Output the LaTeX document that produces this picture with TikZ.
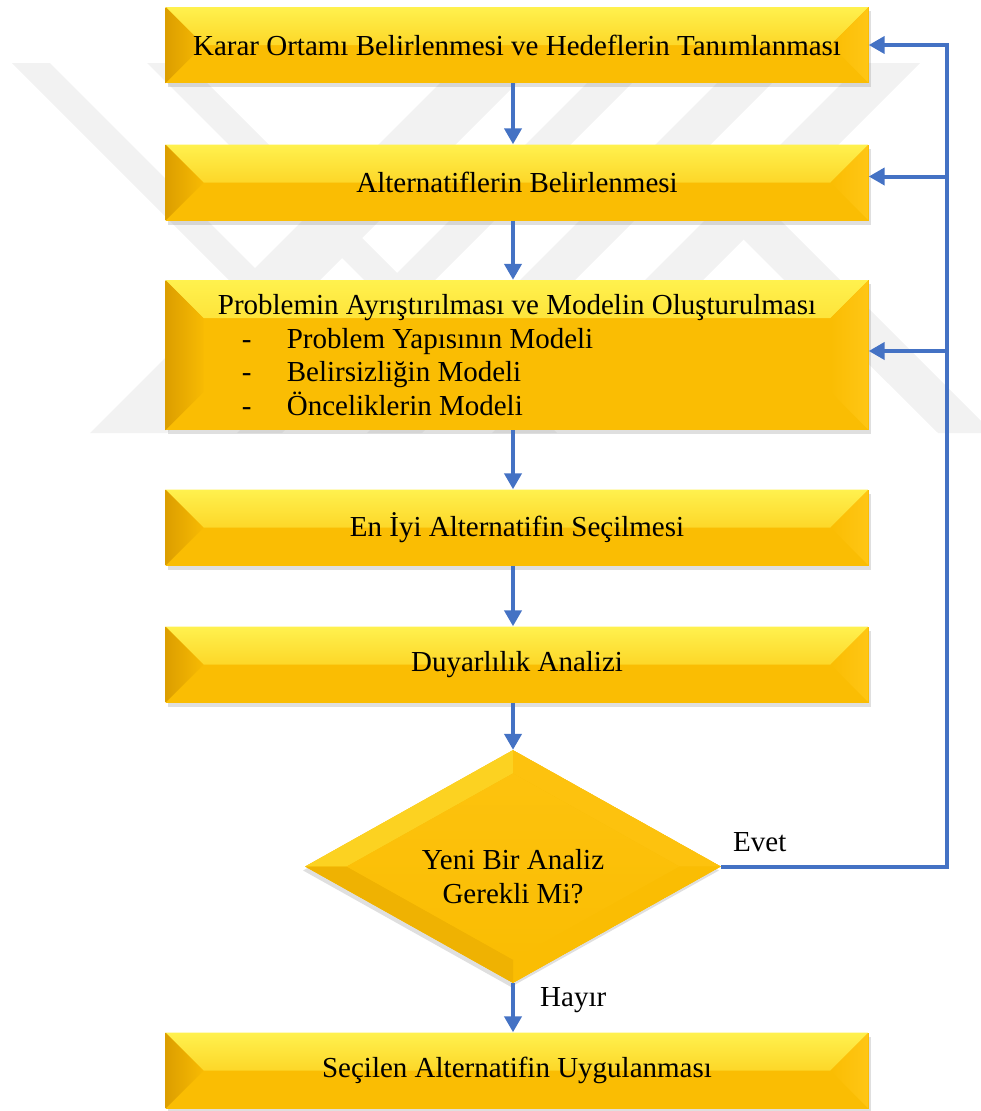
\documentclass[tikz,border=0pt]{standalone}
\usepackage{xcolor}
\usepackage{tikz}
\usepackage{fontspec}
\setmainfont{Liberation Serif}
\usetikzlibrary{shapes.geometric,shadows,arrows.meta,calc}
\definecolor{kmavi}{HTML}{4472C4}
\definecolor{kaltin}{HTML}{FABD03}
\definecolor{kacik}{HTML}{FFF14E}
\definecolor{kkoyu}{HTML}{DC9E00}
\definecolor{ksag}{HTML}{FFC615}
\definecolor{kfiligran}{HTML}{F2F2F2}
\newcommand{\kyazi}{\fontsize{29pt}{33.5pt}\selectfont}
\newcommand{\kNW}{path picture bounding box.north west}
\newcommand{\kNE}{path picture bounding box.north east}
\newcommand{\kSW}{path picture bounding box.south west}
\newcommand{\kSE}{path picture bounding box.south east}

\begin{document}
\begin{tikzpicture}[x=1pt,y=-1pt,
  kutu/.style={rectangle, minimum width=703pt, minimum height=76pt, inner sep=0pt,
    font=\kyazi, fill=kaltin,
    drop shadow={shadow xshift=2pt, shadow yshift=-4pt, opacity=0.25},
    path picture={
      \shade[top color=kacik, middle color=kaltin!80!kacik, bottom color=kaltin] (\kNW) -- (\kNE) -- ([shift={(-38pt,-38pt)}]\kNE) -- ([shift={(38pt,-38pt)}]\kNW) -- cycle;
      \shade[left color=kkoyu, right color=kaltin!92!kkoyu] (\kNW) -- ([shift={(38pt,-38pt)}]\kNW) -- ([shift={(38pt,38pt)}]\kSW) -- (\kSW) -- cycle;
      \shade[left color=kaltin, right color=ksag] (\kNE) -- ([shift={(-38pt,-38pt)}]\kNE) -- ([shift={(-38pt,38pt)}]\kSE) -- (\kSE) -- cycle;
    }},
  soru/.style={diamond, aspect=1.785, minimum width=416pt, minimum height=233pt, inner sep=0pt,
    align=center, font=\kyazi, fill=kaltin,
    drop shadow={shadow xshift=-2pt, shadow yshift=-4pt, opacity=0.25},
    path picture={
      \coordinate (m) at (path picture bounding box.center);
      \coordinate (dn) at (path picture bounding box.north);
      \coordinate (de) at (path picture bounding box.east);
      \coordinate (ds) at (path picture bounding box.south);
      \coordinate (dw) at (path picture bounding box.west);
      \fill[kacik!40!kaltin] (dn) -- (dw) -- ($(m)!.8!(dw)$) -- ($(m)!.8!(dn)$) -- cycle;
      \fill[ksag!60!kaltin] (dn) -- (de) -- ($(m)!.8!(de)$) -- ($(m)!.8!(dn)$) -- cycle;
      \fill[kaltin] (de) -- (ds) -- ($(m)!.8!(ds)$) -- ($(m)!.8!(de)$) -- cycle;
      \fill[kkoyu!35!kaltin] (ds) -- (dw) -- ($(m)!.8!(dw)$) -- ($(m)!.8!(ds)$) -- cycle;
      \shade[top color=ksag!60!kaltin, bottom color=kaltin] ($(m)!.8!(dn)$) -- ($(m)!.8!(de)$) -- ($(m)!.8!(ds)$) -- ($(m)!.8!(dw)$) -- cycle;
    }},
  etiket/.style={font=\kyazi, inner sep=0pt},
  ok/.style={kmavi, line width=4pt, -{Triangle[length=16pt,width=17pt]}}]

  \useasboundingbox (0,0) rectangle (981,1111);

  % filigran
  \begin{scope}
    \clip (0,63) rectangle (981,433);
    \foreach \a/\b in {-51/-13,84/124}
      \fill[kfiligran] ({63+\a},63) -- ({63+\b},63) -- ({433+\b},433) -- ({433+\a},433) -- cycle;
    \foreach \a/\b in {523/600,670/715,800/855,925/983}
      \fill[kfiligran] ({\a-63},63) -- ({\b-63},63) -- ({\b-433},433) -- ({\a-433},433) -- cycle;
    \fill[kfiligran] (742,238) -- (770,210) -- (993,433) -- (938,433) -- cycle;
  \end{scope}

  \node[kutu] (karar) at (517,45) {Karar Ortamı Belirlenmesi ve Hedeflerin Tanımlanması};
  \node[kutu] (alt) at (517,182.5) {Alternatiflerin Belirlenmesi};
  \node[kutu, minimum height=150pt, align=left] (problem) at (517,355)
    {Problemin Ayrıştırılması ve Modelin Oluşturulması\\
     \makebox[69pt][l]{\hspace*{24pt}-}Problem Yapısının Modeli\\
     \makebox[69pt][l]{\hspace*{24pt}-}Belirsizliğin Modeli\\
     \makebox[69pt][l]{\hspace*{24pt}-}Önceliklerin Modeli};
  \node[kutu] (eniyi) at (517,527.5) {En İyi Alternatifin Seçilmesi};
  \node[kutu] (duyar) at (517,664.5) {Duyarlılık Analizi};
  \node[soru] (soru) at (513,866.5) {\rule{0pt}{40pt}Yeni Bir Analiz\\Gerekli Mi?};
  \node[kutu] (secilen) at (517,1070.5) {Seçilen Alternatifin Uygulanması};

  \node[etiket, anchor=base west] (evet) at (733,851) {Evet};
  \node[etiket, anchor=base west] (hayir) at (540,1006) {Hayır};

  \draw[ok] (karar.south -| soru.north) -- (alt.north -| soru.north);
  \draw[ok] (alt.south -| soru.north) -- (problem.north -| soru.north);
  \draw[ok] (problem.south -| soru.north) -- (eniyi.north -| soru.north);
  \draw[ok] (eniyi.south -| soru.north) -- (duyar.north -| soru.north);
  \draw[ok] (duyar.south -| soru.north) -- (soru.north);
  \draw[ok] (soru.south) -- (secilen.north -| soru.south);

  \coordinate (donus) at (947,45);
  \draw[ok] (soru.east) -| (donus) -- (karar.east);
  \draw[ok] ([yshift=6pt]alt.east -| donus) -- ([yshift=6pt]alt.east);
  \draw[ok] ([yshift=4pt]problem.east -| donus) -- ([yshift=4pt]problem.east);
\end{tikzpicture}
\end{document}
